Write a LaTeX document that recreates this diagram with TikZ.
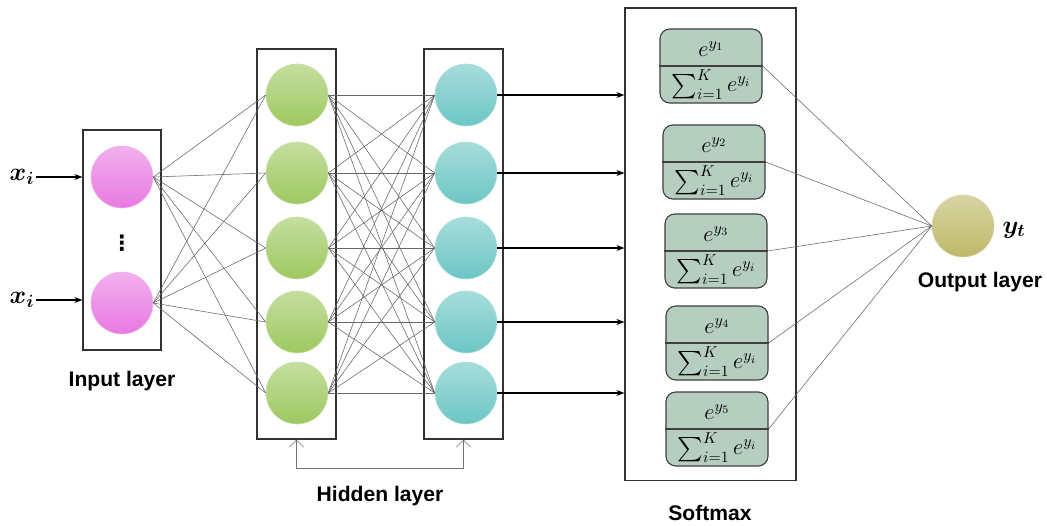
\RequirePackage{fix-cm}
\documentclass[tikz,border=0pt]{standalone}
\usepackage{amsmath}
\usepackage{fontspec}
\setsansfont{Liberation Sans}
\newfontfamily\symbolfont{DejaVu Sans}
\usetikzlibrary{arrows.meta,positioning}

\definecolor{pinkball}{RGB}{232,122,226}
\definecolor{greenball}{RGB}{158,200,96}
\definecolor{tealball}{RGB}{108,198,196}
\definecolor{oliveball}{RGB}{190,184,104}
\definecolor{cellgreen}{RGB}{181,206,192}

\begin{document}
\begin{tikzpicture}[
    x=0.025cm, y=-0.025cm,
    layer box/.style={rectangle, draw=black!80, thick, inner sep=0pt},
    neuron/.style={circle, inner sep=0pt, minimum size=1.55cm,
                   draw=#1!55!white, top color=#1!60!white, bottom color=#1},
    cell/.style={rectangle, draw=black!75, thick, rounded corners=7pt,
                 fill=cellgreen, minimum width=2.55cm, minimum height=1.85cm, inner sep=0pt},
    link/.style={draw=black!60, line width=0.4pt},
    arrow/.style={-{Stealth[length=2mm]}, thick},
    feedback/.style={{Straight Barb[length=1.8mm]}-{Straight Barb[length=1.8mm]}, draw=black!55, thin},
    caption/.style={font=\sffamily\bfseries\fontsize{15}{18}\selectfont},
    mathtext/.style={font=\fontsize{16}{19}\selectfont, inner sep=1pt}
]

\useasboundingbox (0,0) rectangle (1047,526);

% Input layer
\node[layer box, minimum width=1.95cm, minimum height=5.5cm] (inbox) at (122,240) {};
\node[neuron=pinkball] (in1) at (122,177) {};
\node[neuron=pinkball] (in2) at (122,303) {};
\node[font=\symbolfont\bfseries\fontsize{15}{17}\selectfont] (dots) at (122,243) {⋮};
\node[caption] (inlabel) at (122,381) {Input layer};

% Inputs x_i
\node[mathtext, font=\fontsize{18}{20}\selectfont] (x1) at (22,177) {$\boldsymbol{x_i}$};
\node[mathtext, font=\fontsize{18}{20}\selectfont] (x2) at (22,300) {$\boldsymbol{x_i}$};
\draw[arrow] (x1.east) -- (x1.east -| inbox.west);
\draw[arrow] (x2.east) -- (x2.east -| inbox.west);

% Hidden layers (two boxes)
\node[layer box, minimum width=1.975cm, minimum height=9.75cm] (hbox1) at (296.5,244) {};
\node[layer box, minimum width=1.975cm, minimum height=9.75cm] (hbox2) at (463.5,244) {};
\foreach \i/\y in {1/95,2/173,3/248,4/322,5/393} {
    \node[neuron=greenball] (g\i) at (297,\y) {};
    \node[neuron=tealball] (t\i) at (466,\y) {};
}

% Fully connected links
\foreach \i in {1,2}
    \foreach \j in {1,...,5}
        \draw[link] (in\i.east) -- (g\j.west);
\foreach \i in {1,...,5}
    \foreach \j in {1,...,5}
        \draw[link] (g\i.east) -- (t\j.west);

% Bracket under hidden layers
\draw[feedback] (hbox1.south) -- ++(0,29) -| (hbox2.south);
\node[caption] (hidlabel) at (380,496) {Hidden layer};

% Softmax box with its cells
\node[layer box, minimum width=4.275cm, minimum height=11.8cm] (softmax) at (710.5,244) {};
\node[caption] (smlabel) at (710,513) {Softmax};
\foreach \i/\x/\y in {1/711/66,2/714/162,3/716/251,4/717/343,5/717/429} {
    \node[cell] (sm\i) at (\x,\y) {};
    \draw[thick, black!75] (sm\i.west) -- (sm\i.east);
    \node[mathtext] (num\i) at ([yshift=12pt]sm\i.center) {$e^{y_\i}$};
    \node[mathtext] (den\i) at ([yshift=-13pt]sm\i.center) {$\sum_{i=1}^{K} e^{y_i}$};
    \draw[arrow] (t\i.east) -- (t\i.east -| softmax.west);
}

% Output layer
\node[neuron=oliveball] (out) at (963,226) {};
\node[mathtext, font=\fontsize{18}{20}\selectfont] (yt) at (1014,230) {$\boldsymbol{y_t}$};
\node[caption] (outlabel) at (980,282) {Output layer};
\foreach \i in {1,...,5}
    \draw[link] (sm\i.east) -- (out.west);

\end{tikzpicture}
\end{document}
